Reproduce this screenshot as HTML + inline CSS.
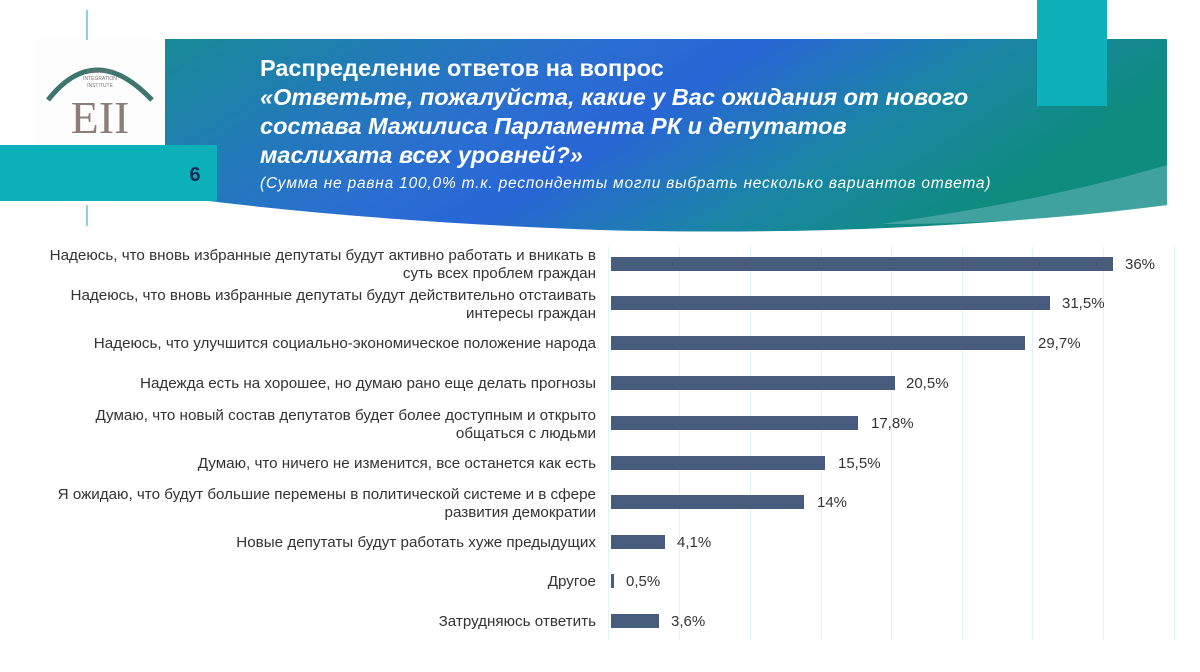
<!DOCTYPE html>
<html><head><meta charset="utf-8"><style>
body{margin:0;width:1200px;height:672px;background:#fff;position:relative;overflow:hidden;font-family:"Liberation Sans",sans-serif;}
.a{position:absolute}
.lbl{position:absolute;right:604px;text-align:right;font-size:15.2px;color:#333;line-height:18px;width:590px;white-space:nowrap}
.bar{position:absolute;left:611px;height:14px;background:#475b7c}
.val{position:absolute;font-size:15px;color:#333}
.g{position:absolute;top:247px;height:393px;width:1px;background:#dff4f8}
</style></head><body>
<svg class="a" style="left:0;top:0" width="1200" height="240">
<defs>
<linearGradient id="gr" x1="0" y1="0" x2="1" y2="0.3">
<stop offset="0" stop-color="#178a96"/><stop offset="0.4" stop-color="#2a6fd0"/><stop offset="0.55" stop-color="#2866d6"/><stop offset="0.78" stop-color="#1a86a4"/><stop offset="1" stop-color="#0e8c7c"/></linearGradient>
</defs>
<path d="M165 39 H1167 V205 Q900 238 600 230 Q380 222 200 200 H165 Z" fill="url(#gr)"/>
<path d="M880 224 Q1050 200 1167 165 V205 Q1020 225 880 224Z" fill="#4ea7a8" opacity="0.8"/>
<rect x="1037" y="0" width="70" height="106" fill="#0bb0b8"/>
<rect x="35" y="39" width="130" height="106" fill="#fdfdfd"/>
<line x1="87" y1="10" x2="87" y2="40" stroke="#16a9b5"/>
<line x1="87" y1="205" x2="87" y2="226" stroke="#16a9b5"/>
<path d="M48 100 Q95 40 152 100" stroke="#3d756f" stroke-width="5" fill="none"/>
<text x="100" y="73" font-size="5" fill="#777" text-anchor="middle" font-family="Liberation Sans">EURASIAN</text>
<text x="100" y="80" font-size="5" fill="#777" text-anchor="middle" font-family="Liberation Sans">INTEGRATION</text>
<text x="100" y="87" font-size="5" fill="#777" text-anchor="middle" font-family="Liberation Sans">INSTITUTE</text>
<text x="100" y="133" font-size="46" fill="#8d7d76" text-anchor="middle" font-family="Liberation Serif">EII</text>
<rect x="0" y="145" width="217" height="56" fill="#0bb0b8"/>
<text x="195" y="181" font-size="20" font-weight="bold" fill="#0f2d55" text-anchor="middle" font-family="Liberation Sans">6</text>
</svg>
<div class="a" style="left:260px;top:54px;color:#fff;font-size:23.5px;font-weight:bold;line-height:29px;white-space:nowrap">Распределение ответов на вопрос<br><i>«Ответьте, пожалуйста, какие у Вас ожидания от нового<br>состава Мажилиса Парламента РК и депутатов<br>маслихата всех уровней?»</i></div>
<div class="a" style="left:260px;top:175px;color:#fff;font-size:15.5px;font-style:italic;letter-spacing:0.8px;white-space:nowrap">(Сумма не равна 100,0% т.к. респонденты могли выбрать несколько вариантов ответа)</div>
<div class="g" style="left:608px"></div><div class="g" style="left:679px"></div><div class="g" style="left:750px"></div><div class="g" style="left:821px"></div><div class="g" style="left:891px"></div><div class="g" style="left:962px"></div><div class="g" style="left:1032px"></div><div class="g" style="left:1103px"></div><div class="g" style="left:1174px"></div>

<div class="lbl" style="top:247px">Надеюсь, что вновь избранные депутаты будут активно работать и вникать в<br>суть всех проблем граждан</div>
<div class="bar" style="top:257px;width:502px"></div><div class="val" style="left:1125px;top:256px">36%</div>
<div class="lbl" style="top:287px">Надеюсь, что вновь избранные депутаты будут действительно отстаивать<br>интересы граждан</div>
<div class="bar" style="top:296px;width:439px"></div><div class="val" style="left:1062px;top:295px">31,5%</div>
<div class="lbl" style="top:335px">Надеюсь, что улучшится социально-экономическое положение народа</div>
<div class="bar" style="top:336px;width:414px"></div><div class="val" style="left:1038px;top:335px">29,7%</div>
<div class="lbl" style="top:375px">Надежда есть на хорошее, но думаю рано еще делать прогнозы</div>
<div class="bar" style="top:376px;width:284px"></div><div class="val" style="left:906px;top:375px">20,5%</div>
<div class="lbl" style="top:407px">Думаю, что новый состав депутатов будет более доступным и открыто<br>общаться с людьми</div>
<div class="bar" style="top:416px;width:247px"></div><div class="val" style="left:871px;top:415px">17,8%</div>
<div class="lbl" style="top:455px">Думаю, что ничего не изменится, все останется как есть</div>
<div class="bar" style="top:456px;width:214px"></div><div class="val" style="left:838px;top:455px">15,5%</div>
<div class="lbl" style="top:486px">Я ожидаю, что будут большие перемены в политической системе и в сфере<br>развития демократии</div>
<div class="bar" style="top:495px;width:193px"></div><div class="val" style="left:817px;top:494px">14%</div>
<div class="lbl" style="top:534px">Новые депутаты будут работать хуже предыдущих</div>
<div class="bar" style="top:535px;width:54px"></div><div class="val" style="left:677px;top:534px">4,1%</div>
<div class="lbl" style="top:573px">Другое</div>
<div class="bar" style="top:574px;width:3px"></div><div class="val" style="left:626px;top:573px">0,5%</div>
<div class="lbl" style="top:613px">Затрудняюсь ответить</div>
<div class="bar" style="top:614px;width:48px"></div><div class="val" style="left:671px;top:613px">3,6%</div>
</body></html>
